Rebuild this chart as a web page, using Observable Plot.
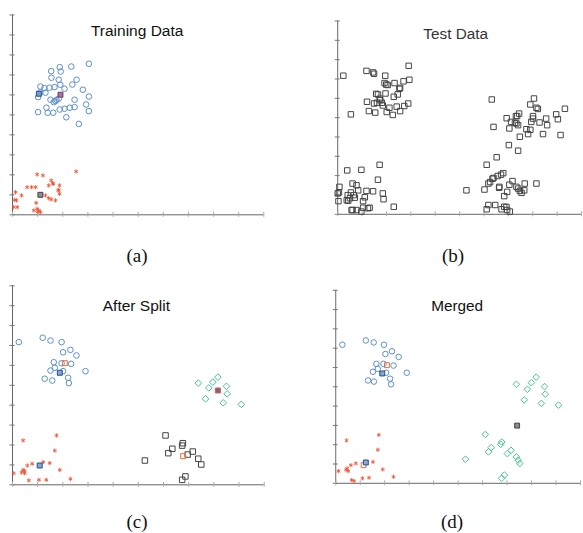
<!DOCTYPE html>
<html>
<head>
<meta charset="utf-8">
<script src="https://cdn.jsdelivr.net/npm/d3@7"></script>
<script src="https://cdn.jsdelivr.net/npm/@observablehq/plot@0.6"></script>
<style>
  html, body { margin: 0; padding: 0; background: #fff; overflow: hidden; }
  #wrap { position: relative; width: 583px; height: 533px; overflow: hidden; background: #fff; }
  .panel { position: absolute; }
  .cap { position: absolute; font-family: "Liberation Serif", "DejaVu Serif", serif; font-size: 19px; color: #111; transform: translate(-50%, -50%); white-space: nowrap; }
</style>
</head>
<body>
<div id="wrap"></div>
<script>
// ---- tick positions (axes carry ticks but no labels) ----
const tickValues = [0, 1, 2, 3, 4, 5, 6, 7, 8, 9, 10];

// ---- titles and captions ----
const titles = ["Training Data", "Test Data", "After Split", "Merged"];
const captions = ["(a)", "(b)", "(c)", "(d)"];

// ---- (a) Training data ----
const trainBlue = [[3.04,7.56],[2.34,7.42],[1.88,7.39],[1.92,7.17],[1.54,7.19],[1.55,6.86],[1.84,6.76],[2.55,6.76],[2.38,6.52],[1.90,6.51],[1.67,6.39],[1.47,6.36],[1.27,6.34],[1.11,6.42],[2.07,6.31],[2.80,6.26],[1.02,5.89],[1.31,6.11],[3.04,5.92],[1.51,5.76],[1.71,5.69],[1.84,5.81],[2.47,5.76],[2.93,5.52],[1.02,5.14],[1.35,5.36],[1.40,5.11],[1.62,5.11],[1.88,5.27],[2.07,5.31],[2.28,5.36],[2.47,5.39],[3.04,5.19],[2.14,4.88],[2.64,4.55],[1.64,5.64],[1.10,6.12],[1.75,5.75]];
const trainRed = [[0.98,2.02],[1.21,1.97],[2.53,2.17],[1.54,1.72],[1.44,1.47],[1.62,1.55],[1.87,1.47],[1.82,1.22],[1.87,1.05],[0.58,1.38],[0.76,1.38],[0.92,1.38],[0.12,1.13],[0.36,0.97],[1.44,0.83],[1.54,0.77],[1.71,0.72],[0.09,0.75],[0.19,0.38],[0.94,0.60],[0.98,0.30],[1.05,0.22],[1.11,0.13],[0.85,0.22],[1.31,0.97],[1.60,1.58],[1.84,1.25],[0.16,0.72],[0.05,0.38],[1.00,0.15]];
const trainCenterBlue = [[1.05,6.06]];
const trainCenterPurple = [[1.91,6.01]];
const trainCenterGray = [[1.11,1.00]];

// ---- (b) Test data ----
const testTopLeft = [[0.23,7.17],[1.18,7.42],[1.45,7.34],[1.49,7.27],[1.95,7.17],[2.91,7.68],[2.94,6.96],[2.70,6.88],[1.92,6.79],[2.05,6.69],[2.33,6.79],[1.99,6.71],[2.53,6.49],[2.56,6.54],[2.46,6.20],[2.30,6.08],[1.96,6.25],[1.65,6.20],[1.58,6.23],[1.72,5.98],[1.61,5.77],[1.75,5.90],[1.81,5.77],[1.20,5.82],[1.49,5.73],[1.85,5.63],[2.12,5.51],[2.42,5.57],[2.73,5.60],[2.89,5.73],[1.28,5.34],[1.54,5.26],[2.01,5.29],[2.26,5.14],[2.56,5.34],[0.54,5.17]];
const testBottomLeft = [[0.39,2.27],[0.97,2.30],[1.72,2.56],[1.65,1.79],[0.07,1.42],[0.61,1.59],[0.77,1.50],[0.84,1.24],[1.18,1.21],[1.45,1.19],[0.54,1.13],[0.41,0.99],[0.05,1.13],[0.03,0.68],[0.37,0.73],[0.70,0.86],[1.11,0.88],[1.04,0.68],[1.85,1.08],[1.88,0.78],[2.30,0.39],[0.61,0.22],[0.77,0.22],[1.04,0.34],[1.24,0.31],[1.31,0.34],[0.97,0.14],[0.66,0.99],[0.50,0.83],[0.43,0.70],[0.00,1.08],[0.57,0.22]];
const testTopRight = [[6.32,5.94],[8.05,5.99],[7.90,5.68],[8.15,5.51],[8.21,5.45],[9.32,5.46],[8.96,5.17],[9.03,4.92],[8.55,4.95],[8.59,4.61],[8.28,4.75],[7.94,4.78],[8.01,5.08],[8.01,4.95],[7.44,5.21],[7.31,5.08],[7.36,5.08],[6.93,4.97],[7.11,4.78],[7.33,4.70],[7.27,4.73],[7.40,4.61],[7.04,4.44],[7.74,4.40],[7.90,4.37],[7.47,4.01],[7.81,4.15],[8.42,4.15],[9.14,4.10],[6.39,4.52],[7.02,3.58],[7.40,3.29],[6.52,2.95],[6.11,2.56]];
const testBottomRight = [[6.79,2.13],[6.70,2.05],[6.56,1.98],[6.39,1.88],[6.35,1.84],[6.25,1.67],[6.18,1.59],[7.17,1.72],[7.04,1.53],[6.63,1.42],[6.62,1.37],[6.02,1.28],[5.28,1.24],[7.67,1.59],[8.15,1.59],[7.33,1.42],[7.40,1.33],[7.47,1.21],[7.54,1.11],[7.65,1.24],[6.95,1.16],[6.83,0.94],[6.18,0.48],[6.46,0.48],[6.83,0.39],[6.92,0.38],[6.95,0.22],[7.06,0.14],[6.72,0.26],[6.11,0.26]];

// ---- (c) After split ----
const splitBlue = [[0.25,7.17],[1.20,7.39],[1.51,7.25],[1.95,7.17],[2.30,6.78],[2.01,6.66],[2.54,6.50],[1.64,6.16],[1.95,6.11],[2.33,6.08],[1.68,5.88],[1.51,5.74],[2.01,5.71],[2.90,5.71],[2.21,5.38],[2.24,5.11],[1.28,5.33],[1.58,5.24]];
const splitGreen = [[7.38,5.11],[8.16,5.41],[7.96,5.16],[7.80,4.87],[8.50,4.95],[8.53,4.57],[7.67,4.32],[8.37,4.12],[9.09,4.04]];
const splitBlack = [[6.08,2.48],[6.77,2.09],[6.74,1.97],[6.35,1.81],[6.19,1.59],[7.16,1.67],[6.96,1.52],[7.38,1.31],[7.50,1.02],[5.26,1.22],[6.87,0.42],[6.74,0.25]];
const splitRed = [[0.42,2.23],[1.75,2.48],[1.68,1.72],[0.05,0.58],[0.42,0.75],[0.48,0.70],[0.59,0.97],[0.78,1.06],[1.22,1.14],[1.48,1.09],[0.48,0.58],[1.88,0.75],[0.65,0.22],[1.05,0.25],[1.34,0.25],[2.30,0.30],[0.36,0.62]];
const splitCenterOrange = [[2.08,6.11],[6.78,1.44]];
const splitCenterBlue = [[1.88,5.63],[1.08,0.97]];
const splitCenterGray = [[8.16,4.74]];

// ---- (d) Merged ----
const mergedBlue = [[0.27,7.18],[1.23,7.40],[1.55,7.30],[1.97,7.18],[2.30,6.84],[2.03,6.70],[2.57,6.55],[1.66,6.19],[2.36,6.10],[1.72,5.93],[1.52,5.78],[2.06,5.73],[2.90,5.73],[2.22,5.42],[2.26,5.13],[1.32,5.33],[1.56,5.27],[1.95,6.19]];
const mergedGreen = [[8.19,5.50],[7.99,5.21],[7.83,4.87],[7.38,5.13],[8.53,5.01],[8.56,4.62],[7.70,4.32],[8.40,4.14],[9.10,4.05],[6.11,2.53],[6.78,2.14],[6.74,2.02],[6.35,1.85],[6.24,1.63],[7.16,1.71],[7.01,1.54],[7.38,1.37],[7.52,1.03],[5.30,1.25],[6.89,0.43],[6.78,0.26],[7.45,1.20]];
const mergedRed = [[0.44,2.22],[1.76,2.51],[1.72,1.74],[0.11,0.63],[0.47,0.77],[0.51,0.63],[0.62,0.94],[0.82,1.03],[1.52,1.11],[1.92,0.72],[0.65,0.17],[0.75,0.12],[1.09,0.26],[1.36,0.29],[2.36,0.34],[0.42,0.70]];
const mergedCenterOrange = [[2.09,6.12],[1.14,0.94]];
const mergedCenterBlue = [[1.90,5.69],[1.23,1.08]];
const mergedCenterGray = [[7.41,2.99]];

// ---- styles ----
const C = { blue: "#5b8fcc", darkBlue: "#23508f", red: "#ee5636", green: "#45c493", black: "#444", orange: "#f06a3a", purple: "#7a3a6a" };
const blueM   = d => ({data: d, symbol: "circle",   stroke: C.blue,  r: 2.8, sw: 1});
const redM    = d => ({data: d, symbol: "asterisk", stroke: C.red,   r: 2.0, sw: 0.9});
const greenM  = d => ({data: d, symbol: "diamond2", stroke: C.green, r: 3.0, sw: 1});
const blackM  = d => ({data: d, symbol: "square",   stroke: C.black, r: 3.1, sw: 1});
const centerM = (d, stroke, fill) => ({data: d, symbol: "square", stroke, fill, r: 2.8, sw: 1});

const panels = [
  { left: 0, top: 0, width: 290, height: 232, ml: 12, mr: 26.7, mt: 14.5, mb: 17.7, title: titles[0], tdx: -1, tdy: 16, tfill: "#111", cap: captions[0], cx: 137, cy: 256,
    layers: [blueM(trainBlue), redM(trainRed), centerM(trainCenterBlue, C.darkBlue, "#7d9cc8"), centerM(trainCenterPurple, C.purple, "#9a7aa0"), centerM(trainCenterGray, "#444", "#8a8a9a")] },
  { left: 290, top: 0, width: 296, height: 232, ml: 47.7, mr: 2, mt: 20.7, mb: 16, title: titles[1], tdx: -4, tdy: 13.5, tfill: "#333", cap: captions[1], cx: 453, cy: 256,
    layers: [blackM(testTopLeft), blackM(testBottomLeft), blackM(testTopRight), blackM(testBottomRight)] },
  { left: 0, top: 270, width: 290, height: 232, ml: 12, mr: 26.3, mt: 15.3, mb: 17.7, title: titles[2], tdx: -2, tdy: 20, tfill: "#111", cap: captions[2], cx: 137, cy: 522,
    layers: [blueM(splitBlue), greenM(splitGreen), blackM(splitBlack), redM(splitRed), centerM(splitCenterOrange, C.orange, "none"), centerM(splitCenterBlue, C.darkBlue, "#8aa4cc"), centerM(splitCenterGray, C.red, "#6a6a8a")] },
  { left: 290, top: 270, width: 296, height: 232, ml: 45.7, mr: 3, mt: 20, mb: 17, title: titles[3], tdx: -1, tdy: 15.5, tfill: "#111", cap: captions[3], cx: 452, cy: 522,
    layers: [blueM(mergedBlue), greenM(mergedGreen), redM(mergedRed), centerM(mergedCenterOrange, C.orange, "none"), centerM(mergedCenterBlue, C.darkBlue, "#8aa4cc"), centerM(mergedCenterGray, "#444", "#8a8a8a")] }
];

const wrap = document.getElementById("wrap");

for (const p of panels) {
  const marks = [
    Plot.ruleX([0], {stroke: "#666", strokeWidth: 1}),
    Plot.ruleY([0], {stroke: "#666", strokeWidth: 1}),
    Plot.ruleY(tickValues, {y: d => d, x1: () => 0, x2: () => 0, insetLeft: -2.5, insetRight: -2.5, stroke: "#777"}),
    Plot.ruleX(tickValues, {x: d => d, y1: () => 0, y2: () => 0, insetTop: -2.5, insetBottom: -2.5, stroke: "#aaa"}),
    Plot.text([p.title], {frameAnchor: "top", dx: p.tdx, dy: p.tdy, text: d => d, lineAnchor: "middle", fontSize: 15.5, fill: p.tfill, fontFamily: "'Liberation Sans', Arial, sans-serif"})
  ];
  for (const L of p.layers) {
    marks.push(Plot.dot(L.data, {x: d => d[0], y: d => d[1], symbol: () => L.symbol, stroke: L.stroke, fill: L.fill || "none", r: L.r, strokeWidth: L.sw}));
  }
  const svg = Plot.plot({
    width: p.width, height: p.height,
    marginLeft: p.ml, marginRight: p.mr, marginTop: p.mt, marginBottom: p.mb,
    x: {domain: [0, 10], axis: null},
    y: {domain: [0, 10], axis: null},
    symbol: {type: "identity"},
    style: {background: "transparent", overflow: "visible"},
    marks
  });
  const div = document.createElement("div");
  div.className = "panel";
  div.style.left = p.left + "px";
  div.style.top = p.top + "px";
  div.appendChild(svg);
  wrap.appendChild(div);

  const cap = document.createElement("div");
  cap.className = "cap";
  cap.textContent = p.cap;
  cap.style.left = p.cx + "px";
  cap.style.top = p.cy + "px";
  wrap.appendChild(cap);
}
</script>
</body>
</html>
